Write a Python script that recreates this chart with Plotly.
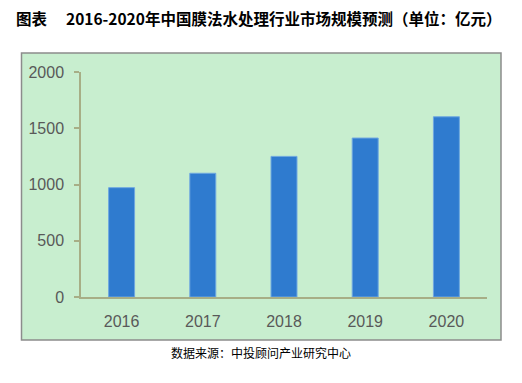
import plotly.graph_objects as go

years = ["2016", "2017", "2018", "2019", "2020"]
values = [972, 1100, 1250, 1413, 1602]
y_ticks = [0, 500, 1000, 1500, 2000]

# page body has an 8px default margin; work in page pixel coords and offset
OFF = 8
W, H = 522 - OFF, 383 - OFF
L, R, T, B = 81 - OFF, 35, 72 - OFF, 86
pw = W - L - R
ph = H - T - B

def px(x):
    return (x - OFF - L) / pw

def py(y):
    return (H - B - (y - OFF)) / ph

fig = go.Figure()
fig.add_trace(go.Bar(
    x=years, y=values,
    marker=dict(color="#2F7BCF", line=dict(color="#6FA8E0", width=1)),
    width=0.32,
))

fig.add_shape(type="rect", xref="paper", yref="paper",
              x0=px(21.5), x1=px(501), y0=py(340), y1=py(53),
              fillcolor="#C8EECF", line=dict(color="#8C8C8C", width=1.5),
              layer="below")

fig.add_annotation(xref="paper", yref="paper", x=px(14), y=py(18),
                   xanchor="left", yanchor="middle", showarrow=False,
                   text="<b>图表　 2016-2020年中国膜法水处理行业市场规模预测（单位：亿元）</b>",
                   font=dict(family="Noto Sans CJK SC", size=15.5, color="#000000"))
fig.add_annotation(xref="paper", yref="paper", x=px(260.5), y=py(352),
                   xanchor="center", yanchor="middle", showarrow=False,
                   text="数据来源：中投顾问产业研究中心",
                   font=dict(family="Noto Sans CJK SC", size=12, color="#000000"))

fig.update_layout(
    width=W, height=H,
    margin=dict(l=L, r=R, t=T, b=B, pad=0),
    paper_bgcolor="white",
    plot_bgcolor="rgba(0,0,0,0)",
    showlegend=False,
    xaxis=dict(type="category", range=[-0.5, 4.5], showgrid=False,
               showline=True, linecolor="#A7AE86", linewidth=1.5,
               ticks="", ticklabelstandoff=9,
               tickfont=dict(family="Liberation Sans", size=16, color="#595959")),
    yaxis=dict(range=[0, 2000], tickvals=y_ticks, showgrid=False,
               zeroline=False, showline=True, linecolor="#A7AE86", linewidth=1.5,
               ticks="outside", ticklen=5, tickcolor="#A7AE86", tickwidth=1.5,
               ticklabelstandoff=7,
               tickfont=dict(family="Liberation Sans", size=16, color="#595959")),
)

fig.write_html("out.html")
